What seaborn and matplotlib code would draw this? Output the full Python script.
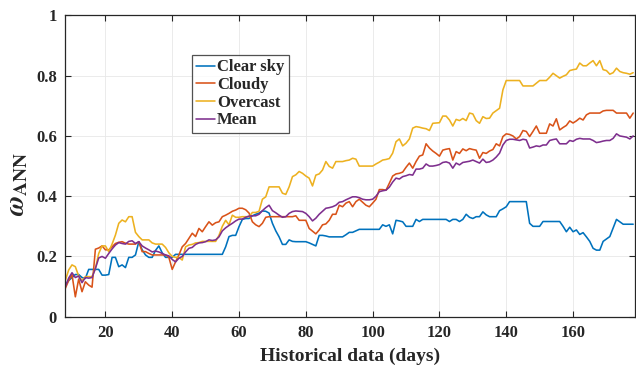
import numpy as np
import pandas as pd
import matplotlib
matplotlib.use("Agg")
import matplotlib.pyplot as plt
import seaborn as sns

# Length of the historical window (days)
days = list(range(8, 179))

clear_sky = [
    0.105, 0.12, 0.13, 0.14, 0.14, 0.13, 0.127, 0.157, 0.157, 0.157,      # 8-17
    0.157, 0.138, 0.138, 0.14, 0.197, 0.197, 0.166, 0.172, 0.163, 0.197,  # 18-27
    0.197, 0.205, 0.249, 0.222, 0.205, 0.197, 0.197, 0.22, 0.235, 0.212,  # 28-37
    0.197, 0.197, 0.197, 0.207, 0.207, 0.207, 0.207, 0.207, 0.207, 0.207,  # 38-47
    0.207, 0.207, 0.207, 0.207, 0.207, 0.207, 0.207, 0.207, 0.232, 0.266,  # 48-57
    0.27, 0.27, 0.299, 0.323, 0.326, 0.326, 0.335, 0.34, 0.344, 0.351,     # 58-67
    0.35, 0.344, 0.31, 0.285, 0.265, 0.24, 0.24, 0.255, 0.25, 0.249,       # 68-77
    0.249, 0.249, 0.249, 0.245, 0.24, 0.235, 0.27, 0.27, 0.268, 0.265,     # 78-87
    0.265, 0.265, 0.265, 0.265, 0.272, 0.28, 0.28, 0.285, 0.29, 0.29,     # 88-97
    0.29, 0.29, 0.29, 0.29, 0.29, 0.305, 0.30, 0.305, 0.275, 0.32,        # 98-107
    0.318, 0.315, 0.30, 0.30, 0.30, 0.323, 0.316, 0.323, 0.323, 0.323,    # 108-117
    0.323, 0.323, 0.323, 0.323, 0.323, 0.316, 0.323, 0.323, 0.316, 0.323, # 118-127
    0.34, 0.33, 0.326, 0.332, 0.332, 0.348, 0.338, 0.332, 0.332, 0.332,   # 128-137
    0.352, 0.358, 0.365, 0.382, 0.382, 0.382, 0.382, 0.382, 0.382, 0.31,  # 138-147
    0.30, 0.30, 0.30, 0.316, 0.316, 0.316, 0.316, 0.316, 0.316, 0.30,     # 148-157
    0.282, 0.297, 0.282, 0.288, 0.273, 0.279, 0.265, 0.25, 0.227, 0.221, # 158-167
    0.221, 0.25, 0.258, 0.266, 0.295, 0.323, 0.315, 0.307, 0.307, 0.307, # 168-177
    0.307,                                                                # 178
]

cloudy = [
    0.094, 0.12, 0.14, 0.066, 0.125, 0.083, 0.116, 0.105, 0.098, 0.224,   # 8-17
    0.228, 0.235, 0.222, 0.222, 0.232, 0.243, 0.247, 0.249, 0.244, 0.241, # 18-27
    0.241, 0.241, 0.249, 0.216, 0.216, 0.21, 0.205, 0.205, 0.205, 0.205,  # 28-37
    0.205, 0.197, 0.157, 0.182, 0.205, 0.232, 0.243, 0.26, 0.277, 0.266,  # 38-47
    0.293, 0.282, 0.299, 0.315, 0.304, 0.312, 0.315, 0.332, 0.337, 0.343, # 48-57
    0.35, 0.354, 0.36, 0.36, 0.355, 0.344, 0.315, 0.305, 0.299, 0.31,     # 58-67
    0.33, 0.332, 0.332, 0.332, 0.332, 0.332, 0.332, 0.332, 0.332, 0.335,  # 68-77
    0.32, 0.32, 0.32, 0.293, 0.284, 0.275, 0.288, 0.305, 0.308, 0.32,     # 78-87
    0.34, 0.34, 0.37, 0.365, 0.377, 0.382, 0.365, 0.382, 0.39, 0.38,      # 88-97
    0.37, 0.365, 0.377, 0.39, 0.422, 0.422, 0.42, 0.443, 0.467, 0.474,    # 98-107
    0.476, 0.48, 0.496, 0.51, 0.493, 0.515, 0.533, 0.537, 0.574, 0.56,    # 108-117
    0.55, 0.542, 0.533, 0.553, 0.556, 0.558, 0.52, 0.548, 0.542, 0.557,   # 118-127
    0.551, 0.558, 0.555, 0.553, 0.526, 0.545, 0.542, 0.55, 0.555, 0.574,  # 128-137
    0.567, 0.598, 0.607, 0.605, 0.60, 0.59, 0.598, 0.618, 0.615, 0.598,   # 138-147
    0.615, 0.633, 0.609, 0.609, 0.609, 0.64, 0.633, 0.657, 0.62, 0.628,   # 148-157
    0.635, 0.65, 0.643, 0.65, 0.659, 0.653, 0.67, 0.676, 0.676, 0.676,    # 158-167
    0.676, 0.683, 0.685, 0.685, 0.685, 0.676, 0.676, 0.676, 0.676, 0.659, # 168-177
    0.676,                                                                # 178
]

overcast = [
    0.12, 0.155, 0.172, 0.166, 0.135, 0.12, 0.133, 0.133, 0.133, 0.16,    # 8-17
    0.21, 0.235, 0.235, 0.216, 0.241, 0.271, 0.31, 0.321, 0.315, 0.332,   # 18-27
    0.332, 0.28, 0.266, 0.255, 0.255, 0.255, 0.245, 0.241, 0.241, 0.241,  # 28-37
    0.23, 0.212, 0.20, 0.197, 0.197, 0.188, 0.232, 0.238, 0.24, 0.245,   # 38-47
    0.246, 0.25, 0.25, 0.25, 0.25, 0.25, 0.27, 0.30, 0.32, 0.305,         # 48-57
    0.337, 0.33, 0.33, 0.332, 0.332, 0.332, 0.346, 0.346, 0.35, 0.39,     # 58-67
    0.398, 0.431, 0.431, 0.431, 0.431, 0.41, 0.406, 0.431, 0.465, 0.471,  # 68-77
    0.482, 0.476, 0.467, 0.46, 0.434, 0.47, 0.474, 0.487, 0.515, 0.499,   # 78-87
    0.493, 0.515, 0.515, 0.515, 0.518, 0.52, 0.526, 0.523, 0.50, 0.50,    # 88-97
    0.50, 0.50, 0.50, 0.507, 0.513, 0.52, 0.522, 0.525, 0.543, 0.581,     # 98-107
    0.59, 0.567, 0.576, 0.59, 0.626, 0.631, 0.629, 0.626, 0.624, 0.618,   # 108-117
    0.642, 0.643, 0.644, 0.666, 0.666, 0.653, 0.633, 0.655, 0.651, 0.658, # 118-127
    0.651, 0.676, 0.673, 0.651, 0.642, 0.664, 0.658, 0.659, 0.676, 0.684, # 128-137
    0.692, 0.753, 0.784, 0.784, 0.784, 0.784, 0.784, 0.766, 0.766, 0.766, # 138-147
    0.766, 0.775, 0.784, 0.784, 0.784, 0.795, 0.808, 0.80, 0.792, 0.798,  # 148-157
    0.803, 0.817, 0.82, 0.822, 0.842, 0.833, 0.833, 0.842, 0.85, 0.833,   # 158-167
    0.85, 0.82, 0.817, 0.805, 0.81, 0.825, 0.814, 0.81, 0.808, 0.805,     # 168-177
    0.81,                                                                 # 178
]

mean = [
    0.10, 0.128, 0.146, 0.13, 0.135, 0.113, 0.13, 0.128, 0.13, 0.16,      # 8-17
    0.195, 0.20, 0.194, 0.21, 0.225, 0.238, 0.246, 0.243, 0.241, 0.25,    # 18-27
    0.252, 0.243, 0.249, 0.235, 0.228, 0.222, 0.215, 0.218, 0.215, 0.21,  # 28-37
    0.205, 0.202, 0.19, 0.182, 0.194, 0.20, 0.215, 0.227, 0.23, 0.24,     # 38-47
    0.245, 0.246, 0.249, 0.255, 0.253, 0.255, 0.265, 0.285, 0.295, 0.303, # 48-57
    0.31, 0.318, 0.324, 0.324, 0.33, 0.334, 0.335, 0.335, 0.34, 0.352,    # 58-67
    0.362, 0.37, 0.352, 0.345, 0.337, 0.33, 0.332, 0.343, 0.349, 0.351,   # 68-77
    0.35, 0.349, 0.343, 0.332, 0.318, 0.327, 0.34, 0.35, 0.36, 0.362,     # 78-87
    0.365, 0.37, 0.38, 0.382, 0.388, 0.393, 0.398, 0.398, 0.395, 0.39,    # 88-97
    0.388, 0.388, 0.39, 0.40, 0.415, 0.418, 0.42, 0.43, 0.447, 0.46,      # 98-107
    0.457, 0.465, 0.468, 0.472, 0.47, 0.49, 0.49, 0.493, 0.507, 0.50,     # 108-117
    0.50, 0.502, 0.505, 0.512, 0.514, 0.51, 0.493, 0.51, 0.504, 0.512,    # 118-127
    0.514, 0.516, 0.52, 0.515, 0.51, 0.523, 0.512, 0.514, 0.52, 0.53,     # 128-137
    0.543, 0.57, 0.585, 0.589, 0.589, 0.587, 0.585, 0.589, 0.587, 0.56,   # 138-147
    0.563, 0.567, 0.565, 0.57, 0.57, 0.585, 0.588, 0.59, 0.574, 0.574,    # 148-157
    0.574, 0.585, 0.582, 0.589, 0.592, 0.59, 0.59, 0.59, 0.585, 0.578,    # 158-167
    0.58, 0.583, 0.585, 0.585, 0.592, 0.607, 0.60, 0.598, 0.596, 0.59,    # 168-177
    0.60,                                                                 # 178
]

series_names = ["Clear sky", "Cloudy", "Overcast", "Mean"]
series_colors = ["#0072BD", "#D95319", "#EDB120", "#7E2F8E"]
x_ticks = [20, 40, 60, 80, 100, 120, 140, 160]
y_ticks = [0, 0.2, 0.4, 0.6, 0.8, 1]
y_tick_labels = ["0", "0.2", "0.4", "0.6", "0.8", "1"]

frames = []
for name, vals in zip(series_names, [clear_sky, cloudy, overcast, mean]):
    frames.append(pd.DataFrame({"days": days, "omega": vals, "series": name}))
df = pd.concat(frames, ignore_index=True)

sns.set_theme(style="ticks")
plt.rcParams["font.family"] = ["Liberation Serif", "DejaVu Serif"]
plt.rcParams["font.weight"] = "bold"
plt.rcParams["mathtext.fontset"] = "stix"

fig = plt.figure(figsize=(6.36, 3.68), dpi=100)
ax = fig.add_axes([0.1027, 0.1394, 0.8955, 0.8186])

sns.lineplot(data=df, x="days", y="omega", hue="series",
             hue_order=series_names,
             palette=dict(zip(series_names, series_colors)),
             linewidth=1.15, ax=ax, legend=False, estimator=None)

ax.set_xlim(8, 178.5)
ax.set_ylim(0, 1)
ax.set_xticks(x_ticks)
ax.set_yticks(y_ticks)
ax.set_yticklabels(y_tick_labels)
ax.grid(True, color="#e8e8e8", linewidth=0.6)
ax.set_axisbelow(True)

for side in ["left", "right", "top", "bottom"]:
    ax.spines[side].set_visible(True)
    ax.spines[side].set_color("#262626")
    ax.spines[side].set_linewidth(0.9)

ax.tick_params(direction="in", length=4, width=0.8, top=True, right=True,
               labelsize=12, colors="#262626", pad=6)
for lbl in ax.get_xticklabels() + ax.get_yticklabels():
    lbl.set_fontweight("bold")
    lbl.set_color("#262626")

ax.set_xlabel("Historical data (days)", fontsize=14, fontweight="bold",
              color="#262626", labelpad=5)
ax.set_ylabel(r"$\omega_{\mathrm{ANN}}$", fontsize=20, color="#262626")
ax.yaxis.set_label_coords(-0.062, 0.44)

handles = [plt.Line2D([], [], color=c, linewidth=1.15) for c in series_colors]
leg = ax.legend(handles, series_names, loc="upper left",
                bbox_to_anchor=(0.2225, 0.868), frameon=True, fancybox=False,
                edgecolor="#262626", handlelength=1.15, handletextpad=0.1,
                borderpad=0.25, labelspacing=0.1, borderaxespad=0,
                prop={"family": "Liberation Serif", "weight": "bold", "size": 12})
leg.get_frame().set_linewidth(0.9)

fig.savefig("out.png", dpi=100)
